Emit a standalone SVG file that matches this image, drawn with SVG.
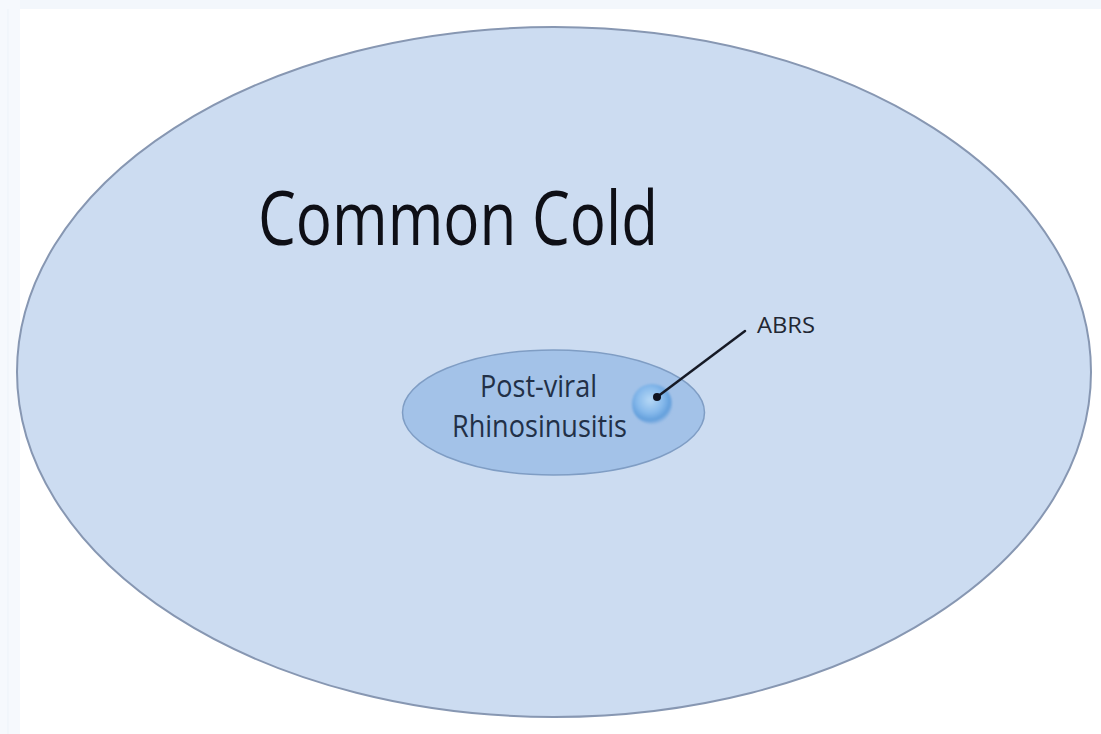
<svg xmlns="http://www.w3.org/2000/svg" width="1101" height="734" viewBox="0 0 1101 734">
  <style>
    .label { font-family: "Open Sans", "Liberation Sans", sans-serif; }
    .title { font-size: 75px; fill: #0e0f16; }
    .inner-text { font-size: 31px; fill: #223047; }
    .small-text { font-size: 22px; fill: #222733; }
  </style>
  <defs>
    <radialGradient id="blobFill" cx="0.45" cy="0.4" r="0.6">
      <stop offset="0" stop-color="#b6d8f6"/>
      <stop offset="0.55" stop-color="#86b9eb"/>
      <stop offset="0.85" stop-color="#639fdc"/>
      <stop offset="1" stop-color="#86b2e2" stop-opacity="0.6"/>
    </radialGradient>
    <filter id="soft" x="-20%" y="-20%" width="140%" height="140%">
      <feGaussianBlur stdDeviation="1.2"/>
    </filter>
  </defs>

  <!-- page background with a faint frame along the top and left -->
  <rect x="0" y="0" width="1101" height="734" fill="#ffffff"/>
  <rect x="0" y="0" width="1101" height="9" fill="#f3f7fc"/>
  <rect x="0" y="0" width="20" height="734" fill="#f6f9fd"/>
  <line x1="8" y1="9" x2="8" y2="734" stroke="#edf3f9" stroke-width="1"/>

  <!-- outer set -->
  <g id="common-cold">
    <ellipse cx="554" cy="372" rx="537" ry="345" fill="#ccdcf1" stroke="#8797b2" stroke-width="2"/>
    <text class="label title" x="258" y="245" textLength="400" lengthAdjust="spacingAndGlyphs">Common Cold</text>
  </g>

  <!-- inner set -->
  <g id="post-viral-rhinosinusitis">
    <ellipse cx="553.5" cy="412.5" rx="151" ry="62.5" fill="#a3c2e8" stroke="#7f9dc4" stroke-width="1.5"/>
    <text class="label inner-text" x="480" y="397" textLength="117" lengthAdjust="spacingAndGlyphs">Post-viral</text>
    <text class="label inner-text" x="452" y="437" textLength="175" lengthAdjust="spacingAndGlyphs">Rhinosinusitis</text>
  </g>

  <!-- innermost subset -->
  <g id="abrs">
    <circle cx="652" cy="404" r="20" fill="url(#blobFill)" filter="url(#soft)"/>
    <text class="label small-text" x="757" y="333" textLength="58" lengthAdjust="spacingAndGlyphs">ABRS</text>
  </g>

  <!-- leader line from label to subset -->
  <g id="connectors">
    <line x1="745" y1="331" x2="657" y2="397" stroke="#161a26" stroke-width="2.5" stroke-linecap="round"/>
    <circle cx="657" cy="397" r="4" fill="#0f1320"/>
  </g>
</svg>
